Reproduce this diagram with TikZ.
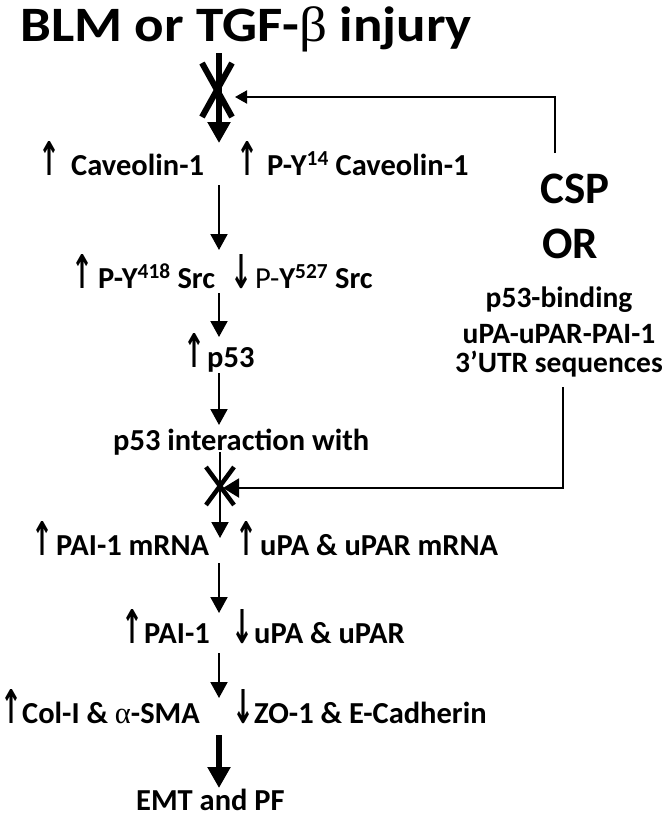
\documentclass[tikz,border=0pt]{standalone}
\usepackage{fontspec}
\usepackage{graphicx}
\setmainfont{Carlito}
\newfontfamily\symf{Liberation Serif}
\newfontfamily\arrf{DejaVu Sans}
\usetikzlibrary{arrows.meta,calc}
\newcommand\upa{\resizebox{22pt}{34pt}{\arrf\bfseries ↑}}
\newcommand\dna{\resizebox{22pt}{34pt}{\arrf\bfseries ↓}}
\begin{document}
\begin{tikzpicture}[x=1pt,y=-1pt,
  txt/.style={anchor=base west, inner sep=0pt, text=black, font=\bfseries\fontsize{30.5}{33}\selectfont},
  ctxt/.style={txt, anchor=base, font=\bfseries\fontsize{29.5}{31}\selectfont},
  bigtxt/.style={anchor=base, inner sep=0pt, font=\bfseries\fontsize{45}{47}\selectfont},
  titletxt/.style={anchor=base west, inner sep=0pt, font=\bfseries\fontsize{55}{58}\selectfont},
  arr/.style={line width=2pt, -{Triangle[width=17pt,length=16pt]}},
  thickarr/.style={line width=6pt, -{Triangle[width=22pt,length=21pt]}},
  fba/.style={line width=2pt, -{Triangle[width=13pt,length=12pt]}},
  fbb/.style={line width=2pt, -{Triangle[width=19pt,length=16pt]}},
  cross/.style={line width=6pt},
  smallcross/.style={line width=4.5pt}
]
\useasboundingbox (0,0) rectangle (666,817);

% texts
\node[titletxt] (title) at (20,41) {\scalebox{1}[0.9]{BLM or TGF-{\symf\mdseries β} injury}};
\node[txt] (cav) at (38,175) {\upa\hspace{11pt}Caveolin-1};
\node[txt] (pcav) at (236,175) {\upa\hspace{9pt}P-Y\textsuperscript{14} Caveolin-1};
\node[txt] (src1) at (71,288) {\upa\hspace{5pt}P-Y\textsuperscript{418} Src};
\node[txt] (src2) at (230,288) {\dna\hspace{3pt}{\mdseries P-}Y\textsuperscript{527} Src};
\node[txt] (p53) at (183,367) {\upa\hspace{2pt}p53};
\node[txt] (inter) at (113,450) {p53 interaction with};
\node[txt] (pai) at (31,555) {\upa\hspace{3pt}PAI-1 mRNA};
\node[txt] (upar) at (235,555) {\upa\hspace{3pt}uPA \& uPAR mRNA};
\node[txt] (pai2) at (121,643) {\upa\hspace{1pt}PAI-1};
\node[txt] (upar2) at (231,643) {\dna\hspace{1pt}uPA \& uPAR};
\node[txt] (col) at (0,723) {\upa\hspace{0pt}Col-I \& {\symf\mdseries α}-SMA};
\node[txt] (zo) at (232,723) {\dna\hspace{0pt}ZO-1 \& E-Cadherin};
\node[txt] (emt) at (136,810) {EMT and PF};

\node[bigtxt] (csp) at (575,203) {CSP};
\node[bigtxt] (or) at (570,258) {OR};
\node[ctxt] (bind) at (559,307) {p53-binding};
\node[ctxt] (seq) at (559,343) {uPA-uPAR-PAI-1};
\node[ctxt] (utr) at (559,372) {3’UTR sequences};

% axis coordinates
\coordinate (a0) at (219,53);   \coordinate (a1) at (219,143);
\coordinate (b0) at (219,185);  \coordinate (b1) at (219,250);
\coordinate (c0) at (219,293);  \coordinate (c1) at (219,337);
\coordinate (d0) at (219,373);  \coordinate (d1) at (219,425);
\coordinate (e0) at (220,452);  \coordinate (e1) at (220,538);
\coordinate (f0) at (219,563);  \coordinate (f1) at (219,613);
\coordinate (g0) at (219,653);  \coordinate (g1) at (219,698);
\coordinate (h0) at (219,735);  \coordinate (h1) at (219,788);
\coordinate (x1) at (217,90);   \coordinate (x2) at (220,486);
\coordinate (fb1s) at (555,153); \coordinate (fb1e) at (235,97);
\coordinate (fb2s) at (563,387); \coordinate (fb2e) at (223,488);

% main chain
\draw[thickarr] (a0) -- (a1);
\draw[arr] (b0) -- (b1);
\draw[arr] (c0) -- (c1);
\draw[arr] (d0) -- (d1);
\draw[arr] (e0) -- (e1);
\draw[arr] (f0) -- (f1);
\draw[arr] (g0) -- (g1);
\draw[thickarr] (h0) -- (h1);

% blocks
\draw[cross] ($(x1)+(-15,-27)$) -- ($(x1)+(15,27)$);
\draw[cross] ($(x1)+(15,-27)$) -- ($(x1)+(-15,27)$);
\draw[smallcross] ($(x2)+(-14,-19)$) -- ($(x2)+(14,19)$);
\draw[smallcross] ($(x2)+(14,-19)$) -- ($(x2)+(-14,19)$);

% feedback
\draw[fba] (fb1s) |- (fb1e);
\draw[fbb] (fb2s) |- (fb2e);
\end{tikzpicture}
\end{document}
